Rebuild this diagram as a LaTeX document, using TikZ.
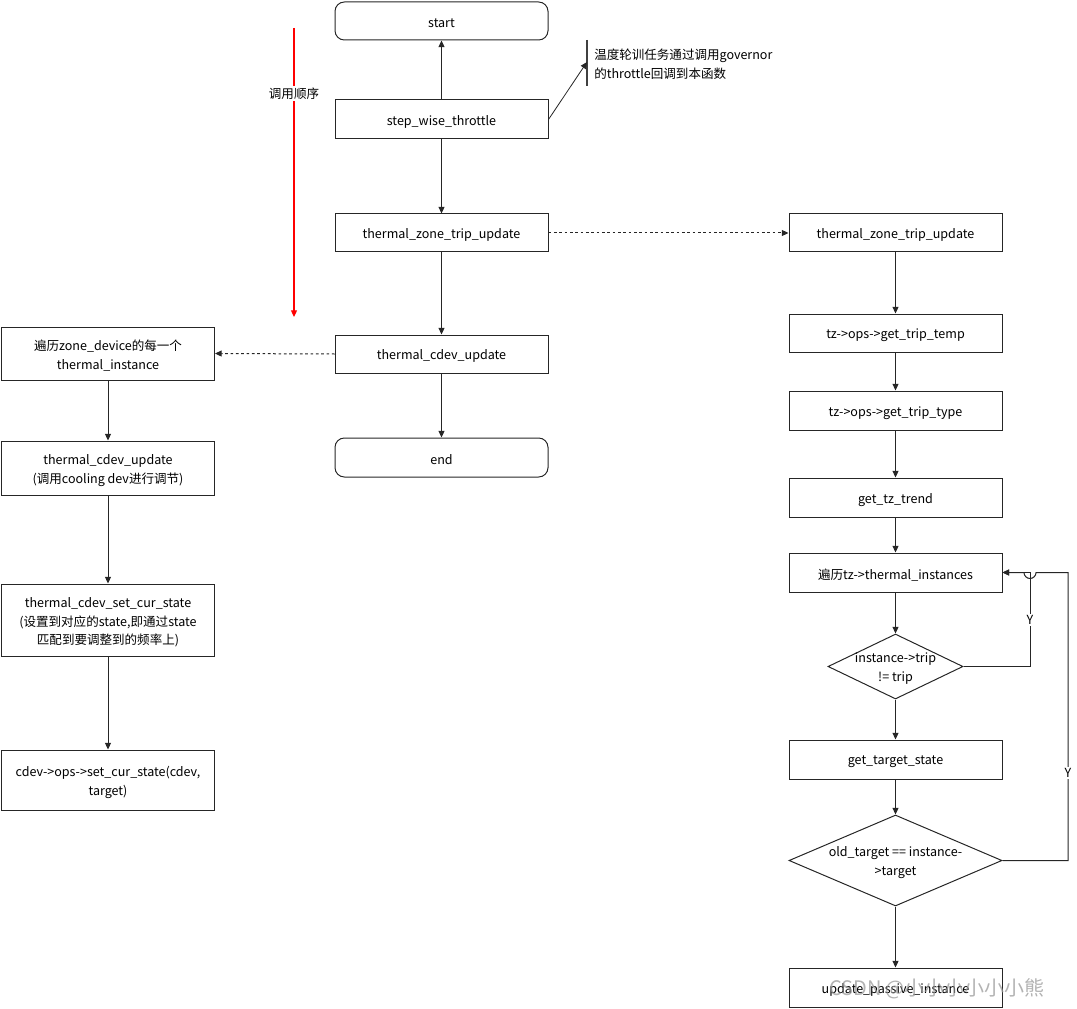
\documentclass[tikz,border=0pt]{standalone}
\usepackage{fontspec}
\setmainfont{Noto Sans CJK SC}
\usetikzlibrary{arrows.meta,shapes.geometric}
\tikzset{
  txt/.style={align=center,font=\fontsize{9.4pt}{14pt}\selectfont,inner sep=0pt,yshift=-1.8pt},
  base/.style={draw=black!85,line width=0.75pt,inner sep=0pt},
  box/.style={base,rectangle,minimum width=213*0.75pt},
  rbox/.style={box,rounded corners=7pt},
  dia/.style={base,diamond},
  conn/.style={line width=0.75pt,draw=black!85,-{Triangle[length=5pt,width=4.5pt]}},
  dotconn/.style={conn,dash pattern=on 2pt off 2pt},
  lbl/.style={font=\fontsize{9.4pt}{12pt}\selectfont,fill=white,inner sep=1pt}
}
\begin{document}
\begin{tikzpicture}[x=0.75pt,y=-0.75pt]
\useasboundingbox (0,0) rectangle (1077,1009);
% middle column
\node[rbox,minimum height=38*0.75pt,label={[txt]center:start}] (start) at (441.5,21) {};
\node[box,minimum height=39*0.75pt,label={[txt]center:step\_wise\_throttle}] (sw) at (441.5,119.5) {};
\node[box,minimum height=38*0.75pt,label={[txt]center:thermal\_zone\_trip\_update}] (tz) at (441.5,233) {};
\node[box,minimum height=38*0.75pt,label={[txt]center:thermal\_cdev\_update}] (cu) at (441.5,354) {};
\node[rbox,minimum height=39*0.75pt,label={[txt]center:end}] (end) at (441.5,457.5) {};
\draw[conn] (sw) -- (start);
\draw[conn] (sw) -- (tz);
\draw[conn] (tz) -- (cu);
\draw[conn] (cu) -- (end);
% annotation
\coordinate (brT) at (587,40);
\coordinate (brB) at (587,86);
\coordinate (brM) at (587,62);
\draw[line width=1.2pt,draw=black!75] (brT) -- (brB);
\draw[line width=0.6pt,draw=black!85,-{Triangle[length=5pt,width=4.5pt]}] (sw.east) -- (brM);
\node[anchor=north west,align=left,font=\fontsize{9.4pt}{14.3pt}\selectfont,inner sep=0pt] (note) at (594,48.5) {温度轮训任务通过调用governor\\的throttle回调到本函数};
% red order arrow
\coordinate (rt) at (294,28);
\coordinate (rb) at (294,317);
\draw[red,line width=0.9pt,-{Triangle[length=5pt,width=4.5pt]}] (rt) -- (rb);
\node[lbl] (order) at (294,93.5) {调用顺序};
% left column
\node[box,minimum height=53*0.75pt,label={[txt]center:遍历zone\_device的每一个\\thermal\_instance}] (l1) at (108,353.5) {};
\node[box,minimum height=54*0.75pt,label={[txt]center:thermal\_cdev\_update\\(调用cooling dev进行调节)}] (l2) at (108,468) {};
\node[box,minimum height=72*0.75pt,label={[txt]center:thermal\_cdev\_set\_cur\_state\\(设置到对应的state,即通过state\\匹配到要调整到的频率上)}] (l3) at (108,620) {};
\node[box,minimum height=60*0.75pt,label={[txt]center:cdev->ops->set\_cur\_state(cdev,\\target)}] (l4) at (108,780) {};
\draw[dotconn] (cu.west) -- (l1.east);
\draw[conn] (l1) -- (l2);
\draw[conn] (l2) -- (l3);
\draw[conn] (l3) -- (l4);
% right column
\node[box,minimum height=38*0.75pt,label={[txt]center:thermal\_zone\_trip\_update}] (r1) at (895.5,233) {};
\node[box,minimum height=38*0.75pt,label={[txt]center:tz->ops->get\_trip\_temp}] (r2) at (895.5,333) {};
\node[box,minimum height=39*0.75pt,label={[txt]center:tz->ops->get\_trip\_type}] (r3) at (895.5,410.5) {};
\node[box,minimum height=39*0.75pt,label={[txt]center:get\_tz\_trend}] (r4) at (895.5,497.5) {};
\node[box,minimum height=39*0.75pt,label={[txt]center:遍历tz->thermal\_instances}] (r5) at (895.5,572.5) {};
\node[dia,minimum width=135*0.75pt,minimum height=65*0.75pt,label={[txt]center:instance->trip\\!= trip}] (d1) at (895.5,666.5) {};
\node[box,minimum height=39*0.75pt,label={[txt]center:get\_target\_state}] (r6) at (895.5,759.5) {};
\node[dia,minimum width=213*0.75pt,minimum height=91*0.75pt,label={[txt]center:old\_target == instance-\\>target}] (d2) at (895.5,860.5) {};
\node[box,minimum height=39*0.75pt,label={[txt]center:update\_passive\_instance}] (r7) at (895.5,987.5) {};
\draw[dotconn] (tz.east) -- (r1.west);
\draw[conn] (r1) -- (r2);
\draw[conn] (r2) -- (r3);
\draw[conn] (r3) -- (r4);
\draw[conn] (r4) -- (r5);
\draw[conn] (r5) -- (d1);
\draw[conn] (d1) -- (r6);
\draw[conn] (r6) -- (d2);
\draw[conn] (d2) -- (r7);
% loops
\coordinate (j1) at (1030,666.5);
\coordinate (j1t) at (1030,572.5);
\draw[conn] (d1.east) -- (j1) -- (j1t) -- (r5.east);
\node[lbl] (y1) at (1030,620) {Y};
\coordinate (j2) at (1068,860.5);
\coordinate (j2t) at (1068,572.5);
\coordinate (hopR) at (1036,572.5);
\draw[conn] (d2.east) -- (j2) -- (j2t) -- (hopR) arc[start angle=0,end angle=180,radius=6] -- (r5.east);
\node[lbl] (y2) at (1068,773) {Y};
% watermark
\node[font=\fontsize{15pt}{17pt}\selectfont,text=black!40,opacity=0.75,inner sep=0pt] (wm) at (937,989) {CSDN @小小小小小小熊};
\end{tikzpicture}
\end{document}
